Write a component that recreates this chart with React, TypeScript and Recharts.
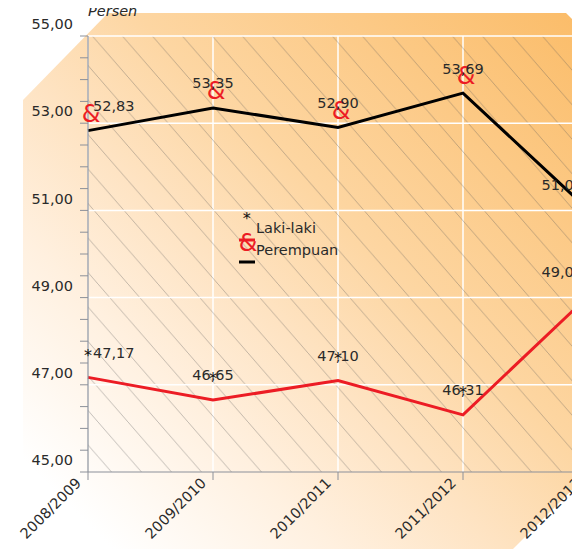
import React from 'react';
import {
  LineChart,
  Line,
  XAxis,
  YAxis,
  CartesianGrid,
  ReferenceLine,
  ReferenceArea,
  Legend,
  LabelList,
} from 'recharts';

const categories = ['2008/2009', '2009/2010', '2010/2011', '2011/2012', '2012/2013'];
const lakiLaki = [52.83, 53.35, 52.9, 53.69, 51.02];
const perempuan = [47.17, 46.65, 47.1, 46.31, 49.03];
const yTicks = [45, 45.5, 46, 46.5, 47, 47.5, 48, 48.5, 49, 49.5, 50, 50.5, 51, 51.5, 52, 52.5, 53, 53.5, 54, 54.5, 55];
const majorTicks = [45, 47, 49, 51, 53, 55];
const gridValues = [47, 49, 51, 53, 55];
const seriesNames = ['Laki-laki', 'Perempuan'];
const unitLabel = 'Persen';

const FONT = '"DejaVu Sans", Verdana, sans-serif';
const FS = 14.5;
const RED = '#ec1c24';
const TEXT = '#2a2a2a';
const AXIS = '#8c9099';

const data = categories.map((c, i) => ({ year: c, laki: lakiLaki[i], perempuan: perempuan[i] }));
const fmt = (v: number) => v.toFixed(2).replace('.', ',');
const LAST = categories.length - 1;

const YTick = (props: any) => {
  const { x, y, payload } = props;
  const v = payload.value;
  if (!majorTicks.includes(v)) return <g />;
  return (
    <text x={x} y={y - 12} dy="0.355em" textAnchor="end" fill={TEXT} fontSize={FS} fontFamily={FONT}>
      {fmt(v)}
    </text>
  );
};

const XTick = (props: any) => {
  const { x, y, payload } = props;
  const tx = x - 6;
  const ty = y + 2;
  return (
    <text
      x={tx}
      y={ty}
      textAnchor="end"
      transform={`rotate(-45, ${tx}, ${ty})`}
      fill={TEXT}
      fontSize={FS}
      fontFamily={FONT}
    >
      {payload.value}
    </text>
  );
};

const renderValueLabel = (p: any) => {
  const { x, y, value, index } = p;
  let anchor: 'start' | 'middle' | 'end' = 'middle';
  let lx = x;
  if (index === 0) {
    anchor = 'start';
    lx = x + 5;
  } else if (index === LAST) {
    anchor = 'end';
    lx = x - 5;
  }
  return (
    <text key={`l-${index}`} x={lx} y={y - 19.6} textAnchor={anchor} fill={TEXT} fontSize={FS} fontFamily={FONT}>
      {fmt(value)}
    </text>
  );
};

const AmpDot = (p: any) => {
  const { cx, cy, index } = p;
  return (
    <text key={`a-${index}`} x={cx + 3} y={cy - 9} textAnchor="middle" fill={RED} fontSize={24} fontFamily={FONT}>
      &amp;
    </text>
  );
};

const StarDot = (p: any) => {
  const { cx, cy, index } = p;
  return (
    <text key={`s-${index}`} x={cx} y={cy - 16.5} textAnchor="middle" fill="#111" fontSize={16} fontFamily={FONT}>
      *
    </text>
  );
};

const renderLegend = () => (
  <svg width={130} height={68} style={{ overflow: 'visible', display: 'block' }}>
    <text x={10.7} y={23.5} textAnchor="middle" fill="#111" fontSize={16} fontFamily={FONT}>*</text>
    <line x1={3} x2={19} y1={40} y2={40} stroke={RED} strokeWidth={3} />
    <text x={12} y={51} textAnchor="middle" fill={RED} fontSize={24} fontFamily={FONT}>&amp;</text>
    <line x1={3} x2={19} y1={62} y2={62} stroke="#000" strokeWidth={3} />
    <text x={20} y={33} fill={TEXT} fontSize={FS} fontFamily={FONT}>{seriesNames[0]}</text>
    <text x={20} y={55} fill={TEXT} fontSize={FS} fontFamily={FONT}>{seriesNames[1]}</text>
  </svg>
);

const UnitLabel = (p: any) => {
  const vb = p.viewBox || { x: 0, y: 28, width: 80 };
  return (
    <text x={vb.x + vb.width} y={vb.y - 20} fill={TEXT} fontSize={FS} fontStyle="italic" fontFamily={FONT}>
      {unitLabel}
    </text>
  );
};

export default function App() {
  return (
    <div style={{ position: 'fixed', left: 0, top: 0, width: 572, height: 549, overflow: 'hidden', background: '#fff' }}>
      <svg width={0} height={0} style={{ position: 'absolute' }}>
        <defs>
          <pattern id="hatch" patternUnits="userSpaceOnUse" width={30} height={34.5}>
            <path d="M-3,-3.45 L33,37.95" stroke="#555" strokeWidth={0.7} strokeOpacity={0.5} fill="none" />
          </pattern>
        </defs>
      </svg>
      <div
        style={{
          position: 'absolute',
          left: 0,
          top: 0,
          width: 572,
          height: 549,
          clipPath: 'polygon(23px 100px, 108px 13px, 566px 13px, 572px 19px, 572px 490px, 513px 549px, 23px 549px)',
          background:
            'linear-gradient(45deg, #ffffff 10%, #fff0df 30%, #fee3c2 45%, #fdd6a2 60%, #fcc985 80%, #fbbc68 100%)',
        }}
      />
      <div style={{ position: 'absolute', left: 8, top: 8 }}>
        <LineChart width={564} height={541} data={data} margin={{ top: 28, right: -16, bottom: 0, left: 0 }}>
          <ReferenceArea
            x1={categories[0]}
            x2={categories[LAST]}
            y1={45}
            y2={55}
            fill="url(#hatch)"
            fillOpacity={1}
            stroke="none"
            ifOverflow="visible"
          />
          <CartesianGrid horizontal={false} vertical={true} stroke="#ffffff" strokeWidth={1.5} strokeDasharray="" />
          {gridValues.map((v) => (
            <ReferenceLine key={v} y={v} stroke="#ffffff" strokeWidth={1.5} ifOverflow="visible" />
          ))}
          <XAxis
            dataKey="year"
            height={77}
            interval={0}
            tickSize={8}
            tickMargin={2}
            stroke={AXIS}
            tickLine={{ stroke: AXIS }}
            axisLine={{ stroke: AXIS, strokeWidth: 1.2 }}
            tick={<XTick />}
          />
          <YAxis
            type="number"
            domain={[45, 55]}
            ticks={yTicks}
            interval={0}
            width={80}
            tickSize={8}
            tickMargin={7}
            stroke={AXIS}
            tickLine={{ stroke: AXIS }}
            axisLine={{ stroke: AXIS, strokeWidth: 1.2 }}
            tick={<YTick />}
            label={<UnitLabel />}
          />
          <Legend
            layout="vertical"
            align="center"
            verticalAlign="middle"
            content={renderLegend}
            wrapperStyle={{ left: 228, top: 192, width: 130, height: 68 }}
          />
          <Line
            type="linear"
            dataKey="laki"
            name={seriesNames[0]}
            stroke="#000000"
            strokeWidth={3}
            dot={AmpDot}
            activeDot={false}
            isAnimationActive={false}
          >
            <LabelList dataKey="laki" content={renderValueLabel} />
          </Line>
          <Line
            type="linear"
            dataKey="perempuan"
            name={seriesNames[1]}
            stroke={RED}
            strokeWidth={3}
            dot={StarDot}
            activeDot={false}
            isAnimationActive={false}
          >
            <LabelList dataKey="perempuan" content={renderValueLabel} />
          </Line>
        </LineChart>
      </div>
    </div>
  );
}
